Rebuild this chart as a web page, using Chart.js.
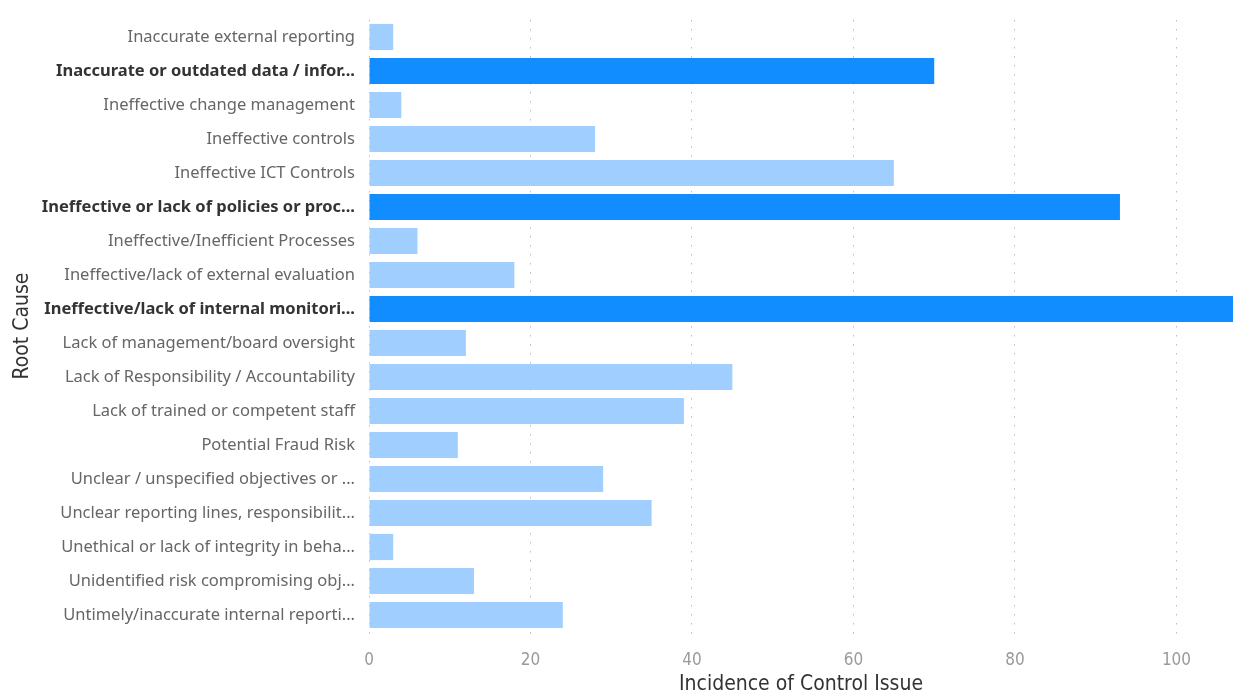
<!DOCTYPE html>
<html>
<head>
<meta charset="utf-8">
<script src="https://cdn.jsdelivr.net/npm/chart.js@4"></script>
<style>
html,body{margin:0;padding:0;background:#fff;}
#wrap{width:1237px;height:695px;position:relative;}
</style>
</head>
<body>
<div id="wrap"><canvas id="c" width="1237" height="695"></canvas></div>
<script>
const categories = [
  "Inaccurate external reporting",
  "Inaccurate or outdated data / infor...",
  "Ineffective change management",
  "Ineffective controls",
  "Ineffective ICT Controls",
  "Ineffective or lack of policies or proc...",
  "Ineffective/Inefficient Processes",
  "Ineffective/lack of external evaluation",
  "Ineffective/lack of internal monitori...",
  "Lack of management/board oversight",
  "Lack of Responsibility / Accountability",
  "Lack of trained or competent staff",
  "Potential Fraud Risk",
  "Unclear / unspecified objectives or ...",
  "Unclear reporting lines, responsibilit...",
  "Unethical or lack of integrity in beha...",
  "Unidentified risk compromising obj...",
  "Untimely/inaccurate internal reporti..."
];
const incidence = [3, 70, 4, 28, 65, 93, 6, 18, 107, 12, 45, 39, 11, 29, 35, 3, 13, 24];
const highlighted = [false, true, false, false, false, true, false, false, true, false, false, false, false, false, false, false, false, false];
const xTicks = [0, 20, 40, 60, 80, 100];
const xMax = 107;

const DARK = '#118DFF';
const LIGHT = '#A0CFFF';
const NARROW = "'Liberation Sans Narrow', 'DejaVu Sans Condensed', sans-serif";

new Chart(document.getElementById('c'), {
  type: 'bar',
  data: {
    labels: categories,
    datasets: [{
      data: incidence,
      backgroundColor: highlighted.map(h => h ? DARK : LIGHT),
      borderWidth: 0,
      categoryPercentage: 1,
      barPercentage: 0.77
    }]
  },
  options: {
    indexAxis: 'y',
    responsive: false,
    animation: false,
    layout: { padding: { left: 0, right: 4, top: 20, bottom: 0 } },
    plugins: { legend: { display: false }, tooltip: { enabled: false } },
    scales: {
      x: {
        min: 0,
        max: xMax,
        afterBuildTicks: s => { s.ticks = xTicks.map(v => ({ value: v })); },
        afterFit: s => { s.height = 63; },
        border: { display: false, dash: [1.5, 7.5] },
        grid: {
          color: '#bdbdbd',
          lineWidth: 1,
          tickBorderDash: [1.5, 7.5],
          tickLength: 8,
          drawTicks: true
        },
        ticks: {
          color: '#9a9a9a',
          padding: 10,
          font: { family: NARROW, size: 17 }
        },
        title: {
          display: true,
          text: 'Incidence of Control Issue',
          color: '#333333',
          padding: { top: 0, bottom: -2 },
          font: { family: NARROW, size: 21 }
        }
      },
      y: {
        afterFit: s => { s.width = 369; s.paddingTop = 0; s.paddingBottom = 0; },
        border: { display: false },
        grid: { display: false, drawTicks: false },
        ticks: {
          padding: 14,
          color: ctx => highlighted[ctx.index] ? '#333333' : '#666666',
          font: ctx => ({
            family: "'Noto Sans', 'Open Sans', sans-serif",
            size: 16.5,
            weight: highlighted[ctx.index] ? 'bold' : 'normal'
          })
        },
        title: {
          display: true,
          text: 'Root Cause',
          color: '#333333',
          padding: { top: 10, bottom: 0 },
          font: { family: NARROW, size: 21 }
        }
      }
    }
  }
});
</script>
</body>
</html>
